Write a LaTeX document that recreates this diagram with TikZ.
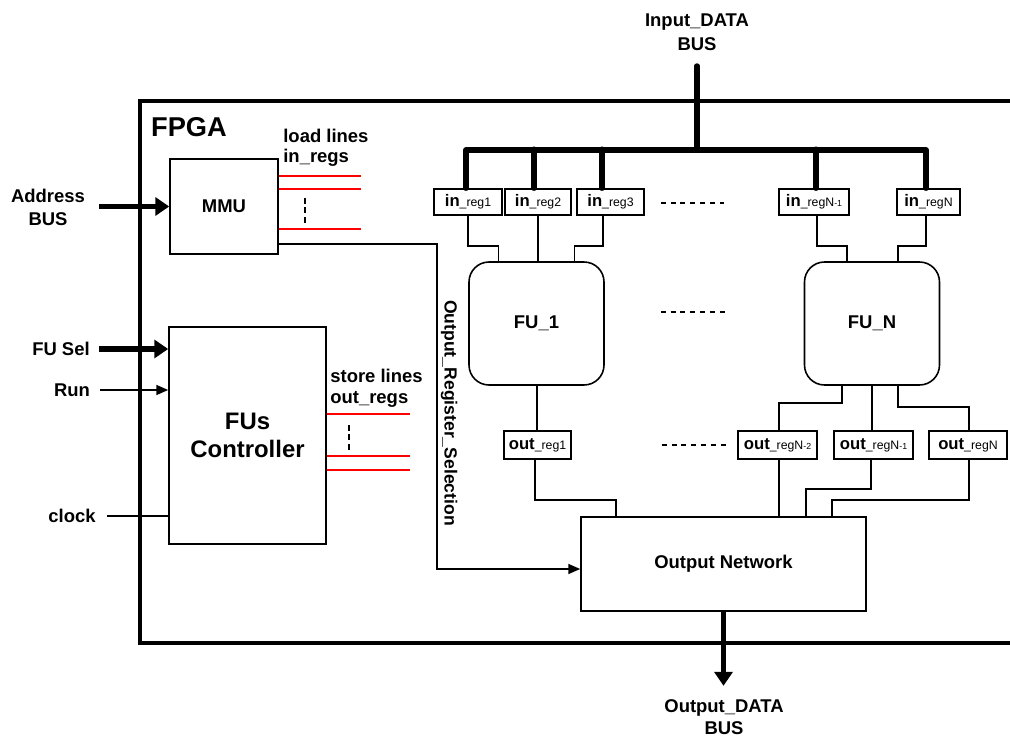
\documentclass[tikz,border=0pt]{standalone}
\usepackage{fontspec}
\setmainfont{Liberation Sans}
\usetikzlibrary{arrows.meta,calc}
\newdimen\pxu
\pxu=0.02cm
\newcommand\reglbl[2]{{\fontsize{9.5}{11}\selectfont #1}{\fontsize{7}{8}\selectfont\mdseries\_reg#2}}
\newcommand\sm[1]{{\fontsize{5}{6}\selectfont #1}}
\begin{document}
\begin{tikzpicture}[x=0.02cm,y=-0.02cm,
    font=\fontsize{10.5}{12.6}\selectfont\bfseries,
    wire/.style={line width=0.9pt},
    redline/.style={line width=0.9pt,red},
    frame/.style={line width=2.3pt},
    bus/.style={line width=3.1pt,line cap=round},
    busarrow/.style={line width=3.1pt,-{Triangle[length=7.9pt,width=10.2pt]}},
    thinarrow/.style={wire,-{Triangle[length=6.8pt,width=5.7pt]}},
    box/.style={draw,line width=0.9pt,inner sep=0pt},
    reg/.style={box,minimum height=26\pxu},
    oreg/.style={box,minimum height=28\pxu},
    fu/.style={box,rounded corners=20\pxu,minimum width=135\pxu,minimum height=123\pxu},
    dots/.style={line width=0.9pt,dash pattern=on 2.8pt off 2.8pt},
    vdots/.style={line width=0.9pt,dash pattern=on 3.2pt off 2.2pt}]
\useasboundingbox (0,0) rectangle (1010,736);
% FPGA frame
\draw[frame] (1010,101) -| (140,643) -- (1010,643);
\node (fpga) at (189,127) {\fontsize{15.5}{18}\selectfont FPGA};
% blocks
\node[box,minimum width=108\pxu,minimum height=95\pxu] (mmu) at (224,206.5) {MMU};
\node[box,minimum width=157\pxu,minimum height=217\pxu,align=center,
  font=\fontsize{13.6}{15.5}\selectfont\bfseries] (ctrl) at (247.5,435.5) {FUs\\Controller};
\node[fu] (fu1) at (536.5,323.5) {FU\_1};
\node[fu] (fuN) at (872,323.5) {FU\_N};
\node[box,minimum width=285\pxu,minimum height=94\pxu] (onet) at (723.5,564) {Output Network};
% input registers
\node[reg,minimum width=68\pxu] (inr1) at (468,202) {\reglbl{in}{1}};
\node[reg,minimum width=66\pxu] (inr2) at (538,202) {\reglbl{in}{2}};
\node[reg,minimum width=67\pxu] (inr3) at (610.5,202) {\reglbl{in}{3}};
\node[reg,minimum width=70\pxu] (inrNm) at (814,202) {\reglbl{in}{N\sm{-1}}};
\node[reg,minimum width=63\pxu] (inrN) at (928.5,202) {\reglbl{in}{N}};
% output registers
\node[oreg,minimum width=67\pxu] (or1) at (537.5,445) {\reglbl{out}{1}};
\node[oreg,minimum width=79\pxu] (orN2) at (777.5,445) {\reglbl{out}{N\sm{-2}}};
\node[oreg,minimum width=79\pxu] (orN1) at (873.5,445) {\reglbl{out}{N\sm{-1}}};
\node[oreg,minimum width=78\pxu] (orN) at (968,445) {\reglbl{out}{N}};
% labels
\node[align=center,font=\fontsize{10.5}{13.5}\selectfont\bfseries] (inlbl) at (697,32) {Input\_DATA\\BUS};
\node[align=center,font=\fontsize{10.5}{12.5}\selectfont\bfseries] (outlbl) at (724,717) {Output\_DATA\\BUS};
\node[align=center,font=\fontsize{10.5}{13}\selectfont\bfseries] (addr) at (48,207) {Address\\BUS};
\node (fusel) at (61,349) {FU Sel};
\node (run) at (72,390) {Run};
\node (clk) at (72,516) {clock};
\node[anchor=west,align=left,inner sep=0pt,font=\fontsize{10.5}{11.5}\selectfont\bfseries] (ldlbl) at (283,148) {load lines\\in\_regs};
\node[anchor=west,align=left,inner sep=0pt,font=\fontsize{10.5}{11.8}\selectfont\bfseries] (stlbl) at (330,388.5) {store lines\\out\_regs};
\node[rotate=-90,font=\fontsize{10}{12}\selectfont\bfseries] (orslbl) at (449,413) {Output\_Register\_Selection};
% input data bus
\coordinate (ibus) at (697,66);
\coordinate (busy) at (697,150);
\draw[bus] (ibus) -- (busy);
\draw[bus,line join=round] ($(inr1.north)+(-2,0)$) |- (busy) -| ($(inrN.north)+(-2.5,0)$);
\foreach \r/\dx in {inr2/-4,inr3/-8.5,inrNm/2}
  \draw[bus] ($(\r.north)+(\dx,0)$) -- ++(0,-39);
% in_regs to FUs
\draw[wire] (inr1.south) -- ++(0,30) -| ($(fu1.north)+(-38,0)$);
\draw[wire] (inr2.south) -- (inr2.south |- fu1.north);
\draw[wire] ($(inr3.south)+(-7.5,0)$) -- ++(0,30) -| ($(fu1.north)+(38,0)$);
\draw[wire] ($(inrNm.south)+(3,0)$) -- ++(0,30) -| ($(fuN.north)+(-25,0)$);
\draw[wire] ($(inrN.south)+(-2.5,0)$) -- ++(0,30) -| ($(fuN.north)+(26,0)$);
% FUs to out_regs
\draw[wire] ($(fu1.south)+(0.5,0)$) -- ($(or1.north)+(-0.5,0)$);
\draw[wire] ($(fuN.south)+(-30,0)$) -- ++(0,17) -| ($(orN2.north)+(1.5,0)$);
\draw[wire] (fuN.south) -- (fuN.south |- orN1.north);
\draw[wire] ($(fuN.south)+(26,0)$) -- ++(0,21) -| ($(orN.north)+(1,0)$);
% out_regs to output network
\draw[wire] ($(or1.south)+(-2.5,0)$) -- ++(0,40) -| ($(onet.north)+(-107.5,0)$);
\draw[wire] ($(orN2.south)+(1.5,0)$) -- ++(0,58);
\draw[wire] ($(orN1.south)+(-2.5,0)$) -- ++(0,29) -| ($(onet.north)+(82.5,0)$);
\draw[wire] ($(orN.south)+(1,0)$) -- ++(0,40) -| ($(onet.north)+(108.5,0)$);
% output data bus
\draw[busarrow] (onet.south) -- ++(0,74);
% register selection
\draw[thinarrow] ($(mmu.east)+(0,37.5)$) -- ++(158,0) |- ($(onet.west)+(0,5)$);
% load / store lines
\foreach \dy in {-30.5,-17.5,22.5}
  \draw[redline] ($(mmu.east)+(0,\dy)$) -- ++(82,0);
\draw[vdots] ($(mmu.east)+(26,-8.5)$) -- ++(0,25);
\foreach \dy in {-21.5,20.5,34.5}
  \draw[redline] ($(ctrl.east)+(0,\dy)$) -- ++(83,0);
\draw[vdots] ($(ctrl.east)+(22,-10.5)$) -- ++(0,25);
% left inputs
\draw[busarrow] ($(mmu.west)+(-70,0)$) -- (mmu.west);
\draw[busarrow] ($(ctrl.west)+(-69,-86.5)$) -- ($(ctrl.west)+(0,-86.5)$);
\draw[thinarrow] ($(ctrl.west)+(-68,-45.5)$) -- ($(ctrl.west)+(0,-45.5)$);
\draw[wire] ($(ctrl.west)+(-61,80.5)$) -- ($(ctrl.west)+(0,80.5)$);
% dots between registers and FUs
\draw[dots] ($(inr3.east)+(16,1)$) -- ($(inrNm.west)+(-54,1)$);
\draw[dots] ($(fu1.east)+(56,-11.5)$) -- ($(fuN.west)+(-78,-11.5)$);
\draw[dots] ($(or1.east)+(90,0)$) -- ($(orN2.west)+(-10,0)$);
\end{tikzpicture}
\end{document}
